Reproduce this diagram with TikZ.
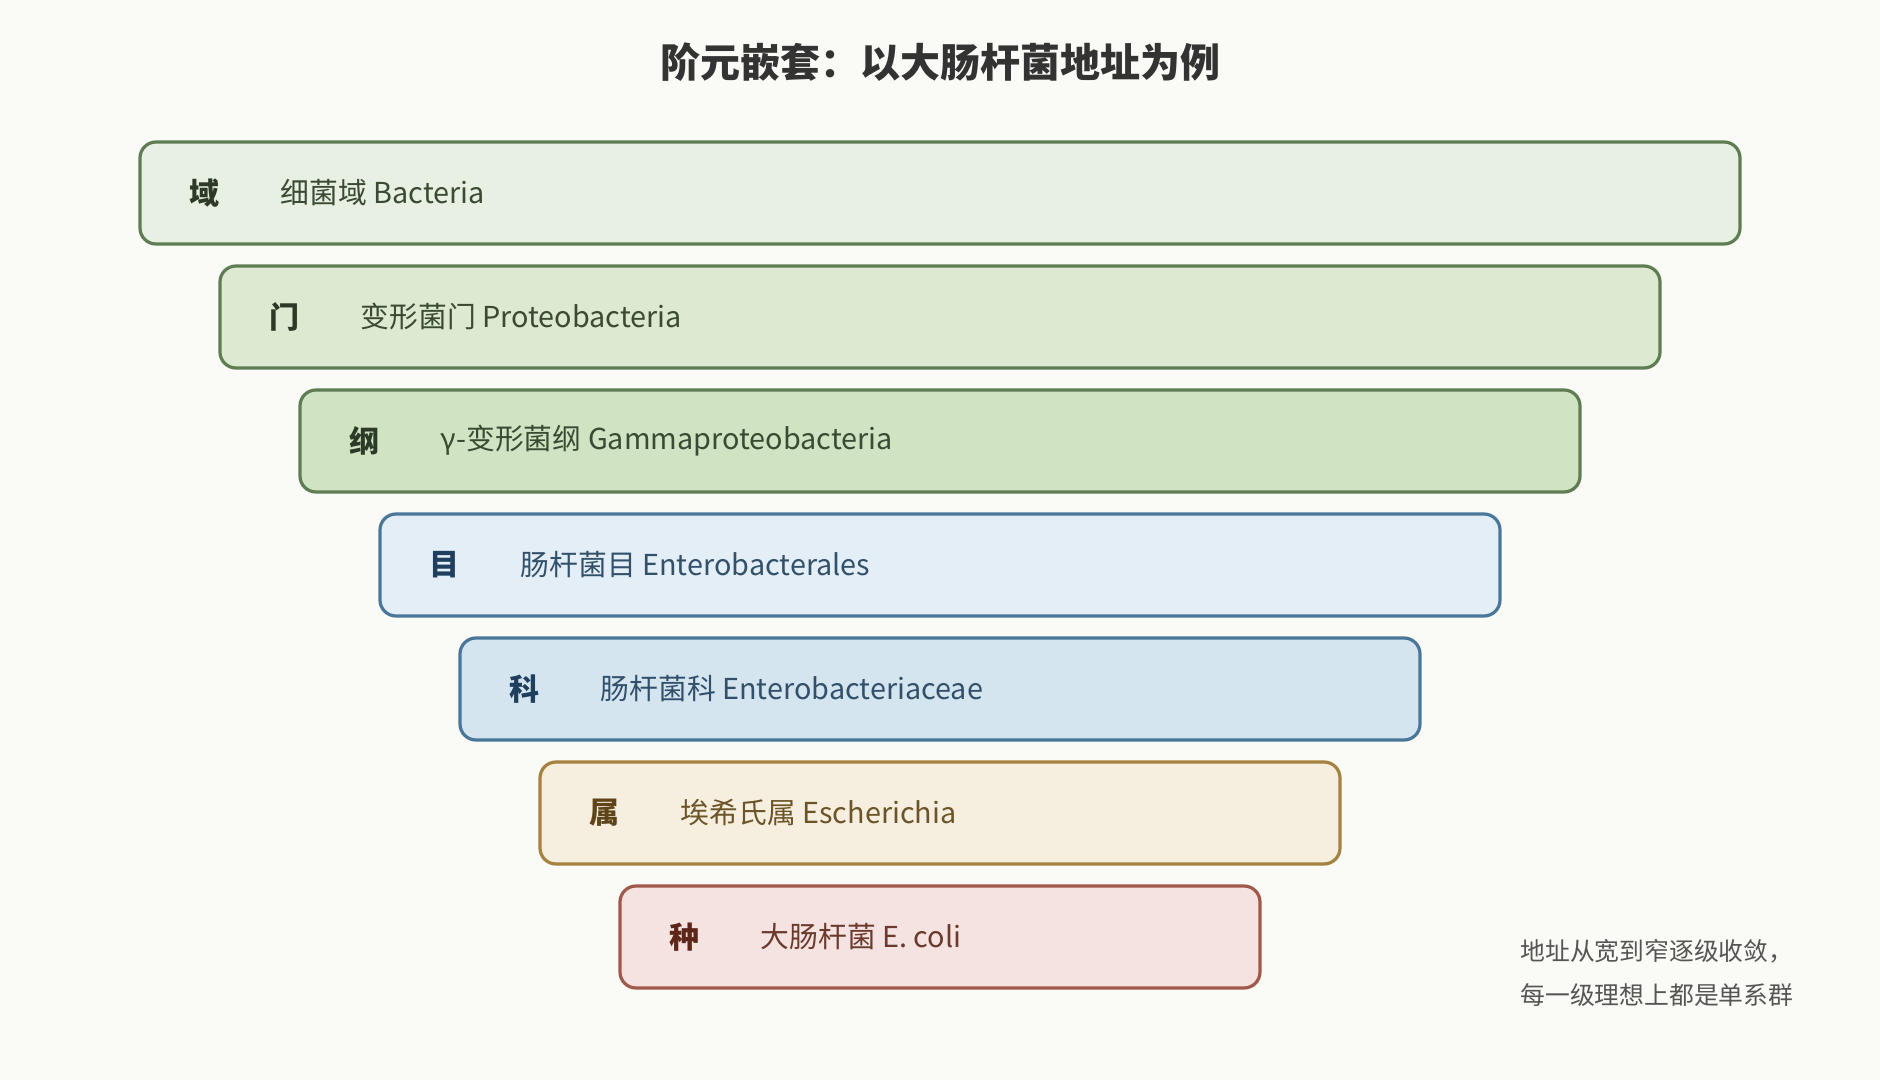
\documentclass[tikz,border=0pt]{standalone}
\usepackage{fontspec}
\setmainfont{Noto Sans CJK SC}
\usepackage{xcolor}
\usepackage{tikz}
\usetikzlibrary{positioning}
\definecolor{pagebg}{HTML}{FAFAF6}
\definecolor{titlegray}{HTML}{333333}
\definecolor{notegray}{HTML}{555555}
\definecolor{greenline}{HTML}{5E7D52}
\definecolor{greenfillA}{HTML}{E8F0E3}
\definecolor{greenfillB}{HTML}{DDE9D1}
\definecolor{greenfillC}{HTML}{D0E3C2}
\definecolor{greentext}{HTML}{3A4A33}
\definecolor{greenrank}{HTML}{2E3A28}
\definecolor{blueline}{HTML}{4A7799}
\definecolor{bluefillA}{HTML}{E3EEF6}
\definecolor{bluefillB}{HTML}{D4E5F0}
\definecolor{bluetext}{HTML}{33506A}
\definecolor{bluerank}{HTML}{1E3F5E}
\definecolor{tanline}{HTML}{A5823F}
\definecolor{tanfill}{HTML}{F6EEDF}
\definecolor{tantext}{HTML}{6B5427}
\definecolor{tanrank}{HTML}{5E4418}
\definecolor{redline}{HTML}{A05A4B}
\definecolor{redfill}{HTML}{F4E3E1}
\definecolor{redtext}{HTML}{6B3A2D}
\definecolor{redrank}{HTML}{5E2618}

\begin{document}
\begin{tikzpicture}[
  x=0.5pt, y=-0.5pt,
  tier/.style={rectangle, rounded corners=8pt, line width=1.6pt,
               minimum height=51pt, inner sep=0pt},
  greentier/.style={tier, draw=greenline},
  bluetier/.style={tier, draw=blueline},
  tantier/.style={tier, draw=tanline},
  redtier/.style={tier, draw=redline},
  rank/.style={font=\fontsize{15}{18}\selectfont\bfseries, inner sep=0pt},
  taxon/.style={font=\fontsize{14.4}{17}\selectfont, anchor=west, inner sep=0pt}
]

% Page
\fill[pagebg] (0,0) rectangle (1880,1080);

% Title
\node[font=\fontsize{20}{24}\selectfont\bfseries, text=titlegray] (title) at (940,62)
  {阶元嵌套：以大肠杆菌地址为例};

% Tiers
\node[greentier, fill=greenfillA, minimum width=800pt] (domain) at (940,193) {};
\node[greentier, fill=greenfillB, minimum width=720pt] (phylum) at (940,317) {};
\node[greentier, fill=greenfillC, minimum width=640pt] (class) at (940,441) {};
\node[bluetier, fill=bluefillA, minimum width=560pt] (order) at (940,565) {};
\node[bluetier, fill=bluefillB, minimum width=480pt] (family) at (940,689) {};
\node[tantier, fill=tanfill, minimum width=400pt] (genus) at (940,813) {};
\node[redtier, fill=redfill, minimum width=320pt] (species) at (940,937) {};

% Rank labels
\node[rank, text=greenrank] (domainrank) at ([xshift=33pt]domain.west) {域};
\node[rank, text=greenrank] (phylumrank) at ([xshift=33pt]phylum.west) {门};
\node[rank, text=greenrank] (classrank) at ([xshift=33pt]class.west) {纲};
\node[rank, text=bluerank] (orderrank) at ([xshift=33pt]order.west) {目};
\node[rank, text=bluerank] (familyrank) at ([xshift=33pt]family.west) {科};
\node[rank, text=tanrank] (genusrank) at ([xshift=33pt]genus.west) {属};
\node[rank, text=redrank] (speciesrank) at ([xshift=33pt]species.west) {种};

% Taxa
\node[taxon, text=greentext] (domainname) at ([xshift=71pt]domain.west) {细菌域 Bacteria};
\node[taxon, text=greentext] (phylumname) at ([xshift=71pt]phylum.west) {变形菌门 Proteobacteria};
\node[taxon, text=greentext] (classname) at ([xshift=71pt]class.west) {γ-变形菌纲 Gammaproteobacteria};
\node[taxon, text=bluetext] (ordername) at ([xshift=71pt]order.west) {肠杆菌目 Enterobacterales};
\node[taxon, text=bluetext] (familyname) at ([xshift=71pt]family.west) {肠杆菌科 Enterobacteriaceae};
\node[taxon, text=tantext] (genusname) at ([xshift=71pt]genus.west) {埃希氏属 Escherichia};
\node[taxon, text=redtext] (speciesname) at ([xshift=71pt]species.west) {大肠杆菌 E. coli};

% Note
\node[anchor=west, align=left, inner sep=0pt, text=notegray,
      font=\fontsize{12.4}{22}\selectfont] (note) at (1520,973)
  {地址从宽到窄逐级收敛，\\每一级理想上都是单系群};

\end{tikzpicture}
\end{document}
